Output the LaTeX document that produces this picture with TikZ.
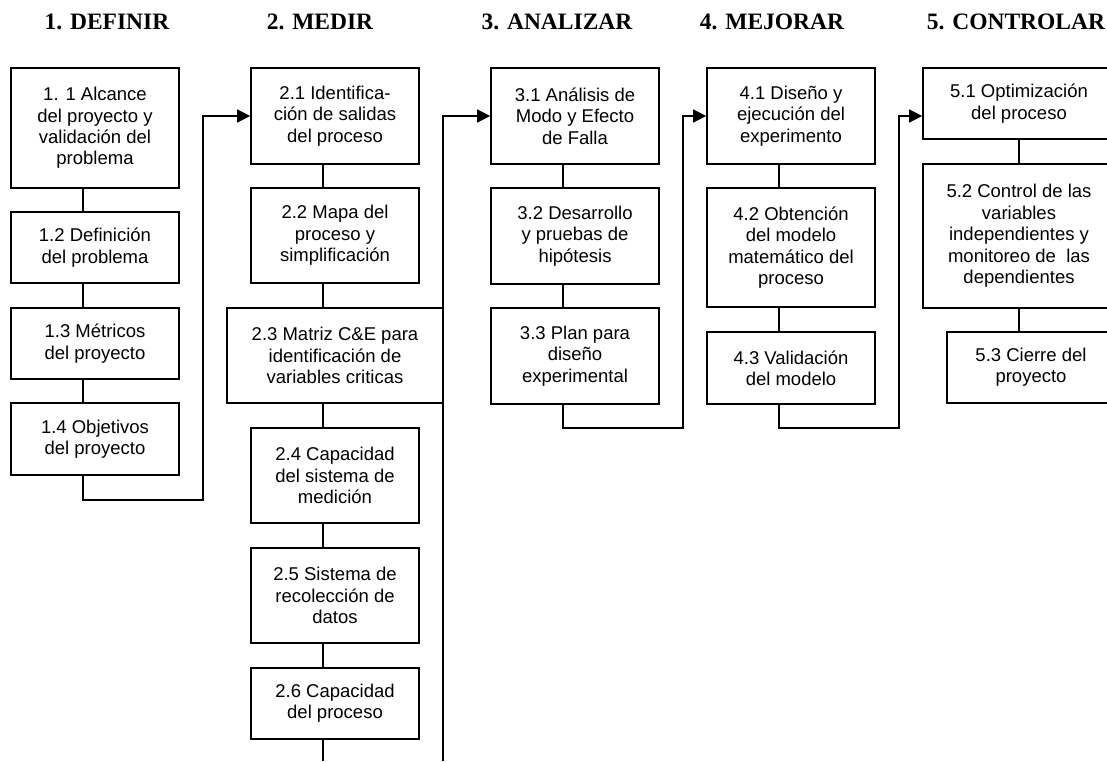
\documentclass[tikz,border=0pt]{standalone}
\usepackage{fontspec}
\setmainfont{Liberation Sans}
\newfontfamily\headfont{Liberation Serif}
\usetikzlibrary{arrows.meta}

\tikzset{
  stepbox/.style={draw, line width=1.8pt, inner sep=0pt, align=center,
    font=\fontsize{18.5}{21.4}\selectfont},
  phase/.style={anchor=base, font=\headfont\bfseries\fontsize{23.5}{26}\selectfont},
  link/.style={line width=1.8pt},
  flow/.style={line width=1.8pt, -{Triangle[length=13pt,width=13pt]}},
}

\begin{document}
\begin{tikzpicture}[x=1pt, y=-1pt]
\useasboundingbox (0,0) rectangle (1107,761);
\clip (0,0) rectangle (1107,761);

% phase headings
\node[phase] (h1) at (107,29) {1. DEFINIR};
\node[phase] (h2) at (320,29) {2. MEDIR};
\node[phase] (h3) at (557,29) {3. ANALIZAR};
\node[phase] (h4) at (772,29) {4. MEJORAR};
\node[phase] (h5) at (1016,29) {5. CONTROLAR};

% column 1
\node[stepbox, minimum width=168, minimum height=120] (n11) at (95,128)
  {1. 1 Alcance\\del proyecto y\\validación del\\problema};
\node[stepbox, minimum width=168, minimum height=71] (n12) at (95,247.5)
  {1.2 Definición\\del problema};
\node[stepbox, minimum width=168, minimum height=71] (n13) at (95,343.5)
  {1.3 Métricos\\del proyecto};
\node[stepbox, minimum width=168, minimum height=72] (n14) at (95,439)
  {1.4 Objetivos\\del proyecto};

% column 2
\node[stepbox, minimum width=168, minimum height=96] (n21) at (335,116)
  {2.1 Identifica-\\ción de salidas\\del proceso};
\node[stepbox, minimum width=168, minimum height=95] (n22) at (335,235.5)
  {2.2 Mapa del\\proceso y\\simplificación};
\node[stepbox, minimum width=216, minimum height=95] (n23) at (335,355.5)
  {2.3 Matriz C\&E para\\identificación de\\variables criticas};
\node[stepbox, minimum width=168, minimum height=95] (n24) at (335,475.5)
  {2.4 Capacidad\\del sistema de\\medición};
\node[stepbox, minimum width=168, minimum height=95] (n25) at (335,595.5)
  {2.5 Sistema de\\recolección de\\datos};
\node[stepbox, minimum width=168, minimum height=71] (n26) at (335,703.5)
  {2.6 Capacidad\\del proceso};

% column 3
\node[stepbox, minimum width=168, minimum height=96] (n31) at (575,116)
  {3.1 Análisis de\\Modo y Efecto\\de Falla};
\node[stepbox, minimum width=168, minimum height=96] (n32) at (575,236)
  {3.2 Desarrollo\\y pruebas de\\hipótesis};
\node[stepbox, minimum width=168, minimum height=96] (n33) at (575,356)
  {3.3 Plan para\\diseño\\experimental};

% column 4
\node[stepbox, minimum width=168, minimum height=96] (n41) at (791,116)
  {4.1 Diseño y\\ejecución del\\experimento};
\node[stepbox, minimum width=168, minimum height=119] (n42) at (791,247.5)
  {4.2 Obtención\\del modelo\\matemático del\\proceso};
\node[stepbox, minimum width=168, minimum height=72] (n43) at (791,368)
  {4.3 Validación\\del modelo};

% column 5
\node[stepbox, minimum width=192, minimum height=71] (n51) at (1019,103.5)
  {5.1 Optimización\\del proceso};
\node[stepbox, minimum width=192, minimum height=144] (n52) at (1019,236)
  {5.2 Control de las\\variables\\independientes y\\monitoreo de \ las\\dependientes};
\node[stepbox, minimum width=168, minimum height=71] (n53) at (1031,367.5)
  {5.3 Cierre del\\proyecto};

% x positions of the vertical links in each column
\coordinate (c1) at (83,0);
\coordinate (c2) at (323,0);
\coordinate (c3) at (563,0);
\coordinate (c4) at (779,0);
\coordinate (c5) at (1019,0);

% links inside the columns
\draw[link] (n11.south -| c1) -- (n12.north -| c1);
\draw[link] (n12.south -| c1) -- (n13.north -| c1);
\draw[link] (n13.south -| c1) -- (n14.north -| c1);

\draw[link] (n21.south -| c2) -- (n22.north -| c2);
\draw[link] (n22.south -| c2) -- (n23.north -| c2);
\draw[link] (n23.south -| c2) -- (n24.north -| c2);
\draw[link] (n24.south -| c2) -- (n25.north -| c2);
\draw[link] (n25.south -| c2) -- (n26.north -| c2);
\coordinate (t2) at (323,761);
\draw[link] (n26.south -| c2) -- (t2);

\draw[link] (n31.south -| c3) -- (n32.north -| c3);
\draw[link] (n32.south -| c3) -- (n33.north -| c3);

\draw[link] (n41.south -| c4) -- (n42.north -| c4);
\draw[link] (n42.south -| c4) -- (n43.north -| c4);

\draw[link] (n51.south -| c5) -- (n52.north -| c5);
\draw[link] (n52.south -| c5) -- (n53.north -| c5);

% links from one phase to the next
\draw[flow] (n14.south -| c1) -- ++(0,24) -| (203,116) -- (n21.west);
\coordinate (b23) at (443,761);
\draw[flow] (b23) |- (n31.west);
\draw[flow] (n33.south -| c3) -- ++(0,23) -| (683,116) -- (n41.west);
\draw[flow] (n43.south -| c4) -- ++(0,23) -| (899,116) -- (n51.west |- n41.west);
\end{tikzpicture}
\end{document}
